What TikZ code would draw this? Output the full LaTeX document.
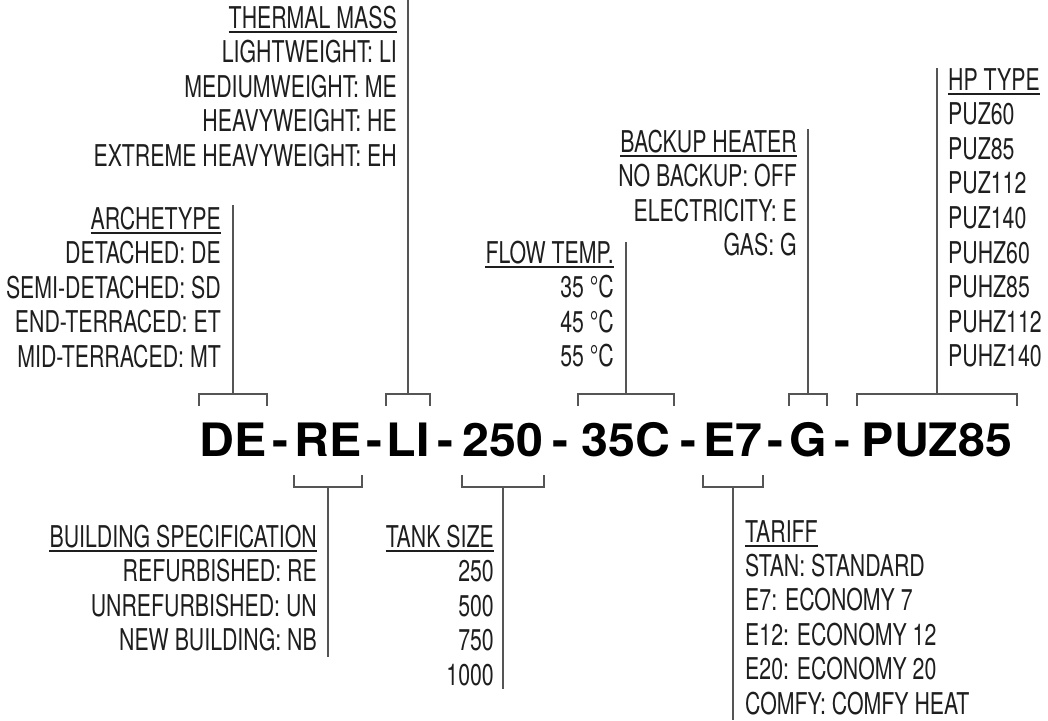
\documentclass[tikz,border=0pt]{standalone}
\usepackage{fontspec}
\usepackage{tikz}
\usetikzlibrary{positioning,calc}
\newfontfamily\codefam[FakeStretch=1.05]{TeX Gyre Heros}
\newfontfamily\labfam[FakeStretch=0.71]{TeX Gyre Heros}
\newcommand\codefont{\codefam\bfseries\fontsize{46}{50}\selectfont}
\newcommand\labfont{\labfam\fontsize{30}{34}\selectfont}
\definecolor{leadgray}{RGB}{85,85,85}
\definecolor{labink}{RGB}{30,30,30}

\begin{document}
\begin{tikzpicture}[
  x=1pt, y=-1pt,
  code/.style={font=\codefont, inner sep=0pt, text height=33pt,
               text depth=0pt, anchor=base},
  head/.style={font=\labfont, text=labink, inner sep=0pt},
  item/.style={font=\labfont, text=labink, inner sep=0pt},
  lead/.style={draw=leadgray, line width=1.8pt},
  uline/.style={draw=labink, line width=1.3pt}
]
\useasboundingbox (0,0) rectangle (1048,720);

% the code string, one node per part
\node[code, minimum width=61pt] (de) at (233,456) {DE};
\node[code, minimum width=61pt] (re) at (328,456) {RE};
\node[code, minimum width=36pt] (li) at (408,456) {LI};
\node[code, minimum width=81pt] (tank) at (503,456) {250};
\node[code, minimum width=96pt] (flow) at (626,456) {35C};
\node[code, minimum width=55pt] (tariff) at (733,456) {E7};
\node[code, minimum width=34pt] (backup) at (808,456) {G};
\node[code, minimum width=159pt] (hp) at (937,456) {PUZ85};
\foreach \a/\b [count=\i] in {de/re, re/li, li/tank, tank/flow,
                              flow/tariff, tariff/backup, backup/hp}
  \path (\a.base east) -- (\b.base west)
    node[code, midway, text height=20pt] (dash\i) {-};

% brackets above and below
\foreach \t in {de, li, flow, backup, hp}
  \draw[lead] ([yshift=17pt]\t.north west) |- ([yshift=29pt]\t.north)
              -| ([yshift=17pt]\t.north east);
\foreach \t in {re, tank, tariff}
  \draw[lead] ([yshift=-19pt]\t.south west) |- ([yshift=-31pt]\t.south)
              -| ([yshift=-19pt]\t.south east);

% thermal mass
\coordinate (tm-end) at (408,0);
\node[head, anchor=base east] (tm-head) at (397,28) {THERMAL MASS};
\foreach \t [count=\i] in {LIGHTWEIGHT: LI, MEDIUMWEIGHT: ME,
                           HEAVYWEIGHT: HE, EXTREME HEAVYWEIGHT: EH}
  \node[item, anchor=base east] (tm-\i) at (397,{28+34.6*\i}) {\t};
\draw[lead] ([yshift=29pt]li.north) -- (li.north |- tm-end);

% archetype
\coordinate (ar-end) at (233,205);
\node[head, anchor=base east] (ar-head) at (221,229) {ARCHETYPE};
\foreach \t [count=\i] in {DETACHED: DE, SEMI-DETACHED: SD,
                           END-TERRACED: ET, MID-TERRACED: MT}
  \node[item, anchor=base east] (ar-\i) at (221,{229+34.6*\i}) {\t};
\draw[lead] ([yshift=29pt]de.north) -- (de.north |- ar-end);

% flow temperature
\coordinate (ft-end) at (626,242);
\node[head, anchor=base east] (ft-head) at (614,263) {FLOW TEMP.};
\foreach \t [count=\i] in {35 °C, 45 °C, 55 °C}
  \node[item, anchor=base east] (ft-\i) at (614,{263+34.6*\i}) {\t};
\draw[lead] ([yshift=29pt]flow.north) -- (flow.north |- ft-end);

% backup heater
\coordinate (bh-end) at (808,129);
\node[head, anchor=base east] (bh-head) at (797,152) {BACKUP HEATER};
\foreach \t [count=\i] in {NO BACKUP: OFF, ELECTRICITY: E, GAS: G}
  \node[item, anchor=base east] (bh-\i) at (797,{152+34.6*\i}) {\t};
\draw[lead] ([yshift=29pt]backup.north) -- (backup.north |- bh-end);

% heat pump type
\coordinate (hp-end) at (937,68);
\node[head, anchor=base west] (hp-head) at (948,90) {HP TYPE};
\foreach \t [count=\i] in {PUZ60, PUZ85, PUZ112, PUZ140,
                           PUHZ60, PUHZ85, PUHZ112, PUHZ140}
  \node[item, anchor=base west] (hp-\i) at (948,{90+34.6*\i}) {\t};
\draw[lead] ([yshift=29pt]hp.north) -- (hp.north |- hp-end);

% building specification
\coordinate (bs-end) at (328,657);
\node[head, anchor=base east] (bs-head) at (317,547) {BUILDING SPECIFICATION};
\foreach \t [count=\i] in {REFURBISHED: RE, UNREFURBISHED: UN,
                           NEW BUILDING: NB}
  \node[item, anchor=base east] (bs-\i) at (317,{547+34.6*\i}) {\t};
\draw[lead] ([yshift=-31pt]re.south) -- (re.south |- bs-end);

% tank size
\coordinate (ts-end) at (503,689);
\node[head, anchor=base east] (ts-head) at (494,547) {TANK SIZE};
\foreach \t [count=\i] in {250, 500, 750, 1000}
  \node[item, anchor=base east] (ts-\i) at (494,{547+34.6*\i}) {\t};
\draw[lead] ([yshift=-31pt]tank.south) -- (tank.south |- ts-end);

% tariff
\coordinate (tf-end) at (733,720);
\node[head, anchor=base west] (tf-head) at (745,542) {TARIFF};
\foreach \t [count=\i] in {STAN: STANDARD, E7: ECONOMY 7, E12: ECONOMY 12,
                           E20: ECONOMY 20, COMFY: COMFY HEAT}
  \node[item, anchor=base west] (tf-\i) at (745,{542+34.4*\i}) {\t};
\draw[lead] ([yshift=-31pt]tariff.south) -- (tariff.south |- tf-end);

% underlined headings
\foreach \h in {tm-head, ar-head, ft-head, bh-head, hp-head,
                bs-head, ts-head, tf-head}
  \draw[uline] ([yshift=-4pt]\h.base west) -- ([yshift=-4pt]\h.base east);
\end{tikzpicture}
\end{document}
